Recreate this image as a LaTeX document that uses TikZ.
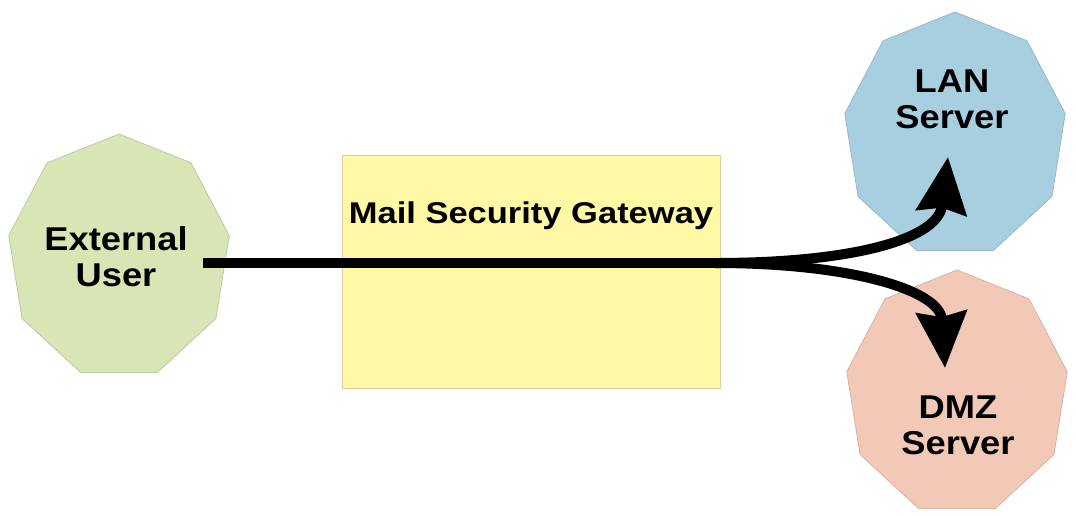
\documentclass[tikz,border=0pt]{standalone}
\usepackage{fontspec}
\newfontfamily\lblfont[FakeStretch=1.1]{Liberation Sans}
\newfontfamily\gwfont[FakeStretch=1.15]{Liberation Sans}
\usetikzlibrary{shapes.geometric,arrows.meta}
\definecolor{userFill}{RGB}{216,229,180}
\definecolor{userLine}{RGB}{190,200,170}
\definecolor{lanFill}{RGB}{168,207,224}
\definecolor{lanLine}{RGB}{150,185,200}
\definecolor{dmzFill}{RGB}{242,201,183}
\definecolor{dmzLine}{RGB}{215,180,165}
\definecolor{gwFill}{RGB}{255,249,166}
\definecolor{gwLine}{RGB}{215,210,160}
\begin{document}
\begin{tikzpicture}[x=1pt,y=-1pt,
  nona/.style={regular polygon,regular polygon sides=9,minimum size=246pt,inner sep=0pt,xscale=0.91,line width=0.8pt},
  lbl/.style={font=\lblfont\bfseries\fontsize{33}{36}\selectfont,align=center},
  gwlbl/.style={font=\gwfont\bfseries\fontsize{30}{36}\selectfont},
  flow/.style={line width=10pt,black},
  tip/.style={-{Stealth[length=56pt,width=50pt,inset=5pt]}}]
  \useasboundingbox (0,0) rectangle (1076,515);
  \node[nona,fill=userFill,draw=userLine] (ext) at (119,257) {};
  \node[nona,fill=lanFill,draw=lanLine] (lan) at (955,135) {};
  \node[nona,fill=dmzFill,draw=dmzLine] (dmz) at (957,393) {};
  \node[rectangle,fill=gwFill,draw=gwLine,line width=0.8pt,minimum width=378pt,minimum height=233pt] (gw) at (531,271.5) {};
  \node[lbl] (extText) at (116,257) {External\\User};
  \node[lbl] (lanText) at (952,99) {LAN\\Server};
  \node[lbl] (dmzText) at (958,425) {DMZ\\Server};
  \node[gwlbl,anchor=base] (gwText) at (531,223) {Mail Security Gateway};
  \coordinate (src) at (203,263);
  \coordinate (fork) at (715,263);
  \coordinate (lanIn) at (948,157);
  \coordinate (dmzIn) at (945,368);
  \draw[flow] (src) -- (fork);
  \draw[flow,tip] (fork) .. controls (850,263) and (938,240) .. (lanIn);
  \draw[flow,tip] (fork) .. controls (850,263) and (940,290) .. (dmzIn);
\end{tikzpicture}
\end{document}
